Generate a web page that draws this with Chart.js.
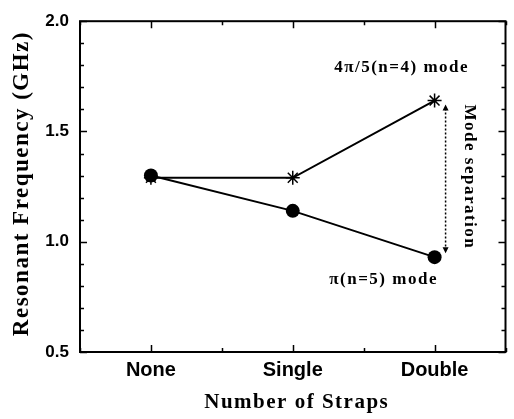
<!DOCTYPE html>
<html>
<head>
<meta charset="UTF-8">
<title>Resonant Frequency vs Number of Straps</title>
<script src="https://cdn.jsdelivr.net/npm/chart.js"></script>
<style>
  html, body { margin: 0; padding: 0; background: #fff; }
  #wrap { width: 514px; height: 419px; }
</style>
</head>
<body>
<div id="wrap"><canvas id="grafico"></canvas></div>
<script>
    // categorias e valores
    const categorias = ['None', 'Single', 'Double'];
    const modoPi = [1.30, 1.14, 0.93];          // pi(n=5) mode  (circulos)
    const modo4pi5 = [1.29, 1.29, 1.64];        // 4pi/5(n=4) mode (estrelas)
    const rotuloPi = 'π(n=5) mode';
    const rotulo4pi5 = '4π/5(n=4) mode';
    const rotuloSeparacao = 'Mode separation';
    const tituloX = 'Number of Straps';
    const tituloY = 'Resonant Frequency (GHz)';

    function pontos(valores) {
        return valores.map(function (v, i) { return { x: i, y: v }; });
    }

    function ehInteiro(v) {
        return Math.abs(v - Math.round(v)) < 1e-6;
    }
    function ehMeio(v) {
        return Math.abs(v * 2 - Math.round(v * 2)) < 1e-6;
    }

    const serifBold = '"Liberation Serif", "Times New Roman", serif';

    // moldura, ticks para dentro, titulos e anotacoes
    const pluginMoldura = {
        id: 'moldura',
        afterDraw(chart) {
            const ctx = chart.ctx;
            const a = chart.chartArea;
            const sx = chart.scales.x;
            const sy = chart.scales.y;
            ctx.save();
            ctx.strokeStyle = '#000';
            ctx.lineWidth = 2;
            ctx.strokeRect(a.left, a.top, a.right - a.left, a.bottom - a.top);

            ctx.lineWidth = 1.5;
            ctx.beginPath();
            sy.ticks.forEach(function (t) {
                const y = Math.round(sy.getPixelForValue(t.value)) + 0.5;
                const len = ehMeio(t.value) ? 7 : 4;
                ctx.moveTo(a.left, y); ctx.lineTo(a.left + len, y);
                ctx.moveTo(a.right, y); ctx.lineTo(a.right - len, y);
            });
            sx.ticks.forEach(function (t) {
                const x = Math.round(sx.getPixelForValue(t.value)) + 0.5;
                const len = ehInteiro(t.value) ? 7 : 4;
                ctx.moveTo(x, a.bottom); ctx.lineTo(x, a.bottom - len);
                ctx.moveTo(x, a.top); ctx.lineTo(x, a.top + len);
            });
            ctx.stroke();

            // seta pontilhada de separacao
            const xd = sx.getPixelForValue(2) + 11;
            const yTop = sy.getPixelForValue(modo4pi5[2]) + 4;
            const yBot = sy.getPixelForValue(modoPi[2]) - 4;
            ctx.setLineDash([2, 2]);
            ctx.lineWidth = 1.5;
            ctx.beginPath();
            ctx.moveTo(xd, yTop + 4);
            ctx.lineTo(xd, yBot - 4);
            ctx.stroke();
            ctx.setLineDash([]);
            ctx.fillStyle = '#000';
            ctx.beginPath();
            ctx.moveTo(xd, yTop); ctx.lineTo(xd - 3, yTop + 6); ctx.lineTo(xd + 3, yTop + 6); ctx.closePath();
            ctx.moveTo(xd, yBot); ctx.lineTo(xd - 3, yBot - 6); ctx.lineTo(xd + 3, yBot - 6); ctx.closePath();
            ctx.fill();

            // textos (o original e um pouco espacado)
            ctx.letterSpacing = '1.5px';
            ctx.textAlign = 'center';
            ctx.textBaseline = 'middle';

            ctx.font = 'bold 21px ' + serifBold;
            ctx.fillText(tituloX, (a.left + a.right) / 2 + 4, 403);

            ctx.save();
            ctx.font = 'bold 23px ' + serifBold;
            ctx.translate(22, (a.top + a.bottom) / 2 - 3);
            ctx.rotate(-Math.PI / 2);
            ctx.fillText(tituloY, 0, 0);
            ctx.restore();

            ctx.font = 'bold 17px ' + serifBold;
            ctx.fillText(rotulo4pi5, sx.getPixelForValue(2) - 33, sy.getPixelForValue(1.79));
            ctx.fillText(rotuloPi, sx.getPixelForValue(2) - 51, sy.getPixelForValue(0.83));

            ctx.translate(xd + 24, (yTop + yBot) / 2 - 2);
            ctx.rotate(Math.PI / 2);
            ctx.fillText(rotuloSeparacao, 0, 0);
            ctx.restore();
        }
    };

    const dados = {
        datasets: [{
            label: rotuloPi,
            data: pontos(modoPi),
            borderColor: '#000',
            backgroundColor: '#000',
            borderWidth: 2,
            pointStyle: 'circle',
            pointRadius: 7,
            pointBorderWidth: 0,
            fill: false,
            tension: 0
        },
        {
            label: rotulo4pi5,
            data: pontos(modo4pi5),
            borderColor: '#000',
            backgroundColor: '#000',
            borderWidth: 2,
            pointStyle: 'star',
            pointRadius: 7,
            pointBorderWidth: 1.5,
            fill: false,
            tension: 0
        }]
    };

    const config = {
        type: 'line',
        data: dados,
        options: {
            responsive: true,
            maintainAspectRatio: false,
            animation: false,
            layout: { padding: { top: 19, right: 3, left: 0, bottom: 0 } },
            plugins: {
                legend: { display: false },
                tooltip: { enabled: false }
            },
            scales: {
                x: {
                    type: 'linear',
                    min: -0.5,
                    max: 2.5,
                    afterFit(scale) { scale.height = 67; },
                    border: { display: false },
                    grid: { display: false, drawTicks: false },
                    ticks: {
                        stepSize: 0.5,
                        autoSkip: false,
                        maxRotation: 0,
                        padding: 6,
                        color: '#000',
                        font: { family: '"Liberation Sans", Arial, sans-serif', size: 20, weight: 'bold' },
                        callback: function (v) {
                            return ehInteiro(v) && v >= 0 && v < categorias.length ? categorias[Math.round(v)] : '';
                        }
                    },
                    title: { display: false }
                },
                y: {
                    min: 0.5,
                    max: 2.0,
                    afterFit(scale) { scale.width = 80; },
                    border: { display: false },
                    grid: { display: false, drawTicks: false },
                    ticks: {
                        stepSize: 0.1,
                        autoSkip: false,
                        padding: 11,
                        color: '#000',
                        font: { family: '"Liberation Sans", Arial, sans-serif', size: 17, weight: 'bold' },
                        callback: function (v) {
                            return ehMeio(v) ? v.toFixed(1) : '';
                        }
                    },
                    title: { display: false }
                }
            }
        },
        plugins: [pluginMoldura]
    };

    let grafico = new Chart(document.getElementById('grafico'), config);
</script>
</body>
</html>
